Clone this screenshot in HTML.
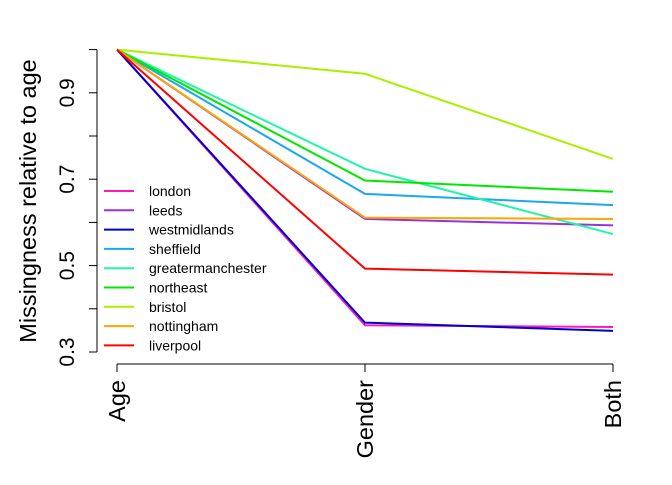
<!DOCTYPE html>
<html><head><meta charset="utf-8"><style>
body{margin:0;background:#fff}
text{font-family:"Liberation Sans",sans-serif;fill:#000}
</style></head><body>
<svg id="chart" width="672" height="480" xmlns="http://www.w3.org/2000/svg">
<g id="axes"></g>
<g id="series"></g>
<g id="legend"></g>
<text transform="translate(36,201) rotate(-90)" text-anchor="middle" font-size="23.5">Missingness relative to age</text>
</svg>
<script>
const categories=["Age","Gender","Both"];
const seriesNames=["london","leeds","westmidlands","sheffield","greatermanchester","northeast","bristol","nottingham","liverpool"];
const seriesColors=["#FF1AB5","#9B30E0","#0000CD","#1AA8F0","#20F5A8","#00E800","#A8F000","#FFA500","#FF0000"];
const london=[1,0.362,0.358];
const leeds=[1,0.608,0.593];
const westmidlands=[1,0.368,0.349];
const sheffield=[1,0.666,0.640];
const greatermanchester=[1,0.724,0.573];
const northeast=[1,0.697,0.671];
const bristol=[1,0.944,0.747];
const nottingham=[1,0.611,0.608];
const liverpool=[1,0.493,0.479];
const seriesValues=[london,leeds,westmidlands,sheffield,greatermanchester,northeast,bristol,nottingham,liverpool];
const yTicks=[0.3,0.4,0.5,0.6,0.7,0.8,0.9,1.0];
const yLabels=["0.3","0.5","0.7","0.9"];
const NS="http://www.w3.org/2000/svg";
function y(v){return 352-(v-0.3)*432;}
function x(i){return 117+i*248;}
function mk(tag,attrs,parent){const e=document.createElementNS(NS,tag);for(const k in attrs)e.setAttribute(k,attrs[k]);parent.appendChild(e);return e;}
const axes=document.getElementById('axes');
let l=mk('line',{x1:97,x2:97,y1:y(1),y2:y(0.3),stroke:'#000'},axes);


yTicks.forEach(t=>{const tk=mk('line',{x1:89,x2:97,y1:y(t),y2:y(t),stroke:'#000'},axes);

});
yLabels.forEach(s=>{const t=mk('text',{transform:`translate(74,${y(+s)}) rotate(-90)`,'text-anchor':'middle','font-size':'21'},axes);t.textContent=s;

});
l=mk('line',{x1:x(0),x2:x(2),y1:364,y2:364,stroke:'#000'},axes);


categories.forEach((c,i)=>{const tk=mk('line',{x1:x(i),x2:x(i),y1:364,y2:372,stroke:'#000'},axes);


const t=mk('text',{transform:`translate(${x(i)+8},380) rotate(-90)`,'text-anchor':'end','font-size':'23.5'},axes);t.textContent=c;

});
const sg=document.getElementById('series');
seriesValues.forEach((vals,s)=>{const p=mk('polyline',{points:vals.map((v,i)=>x(i)+','+y(v)).join(' '),fill:'none',stroke:seriesColors[s],'stroke-width':2},sg);

});
const lg=document.getElementById('legend');
seriesNames.forEach((n,i)=>{const yy=191+i*19.3;
const ln=mk('line',{x1:104,x2:134,y1:yy,y2:yy,stroke:seriesColors[i],'stroke-width':2},lg);


const t=mk('text',{x:149,y:yy+5,'font-size':'14'},lg);t.textContent=n;

});
</script>
</body></html>
